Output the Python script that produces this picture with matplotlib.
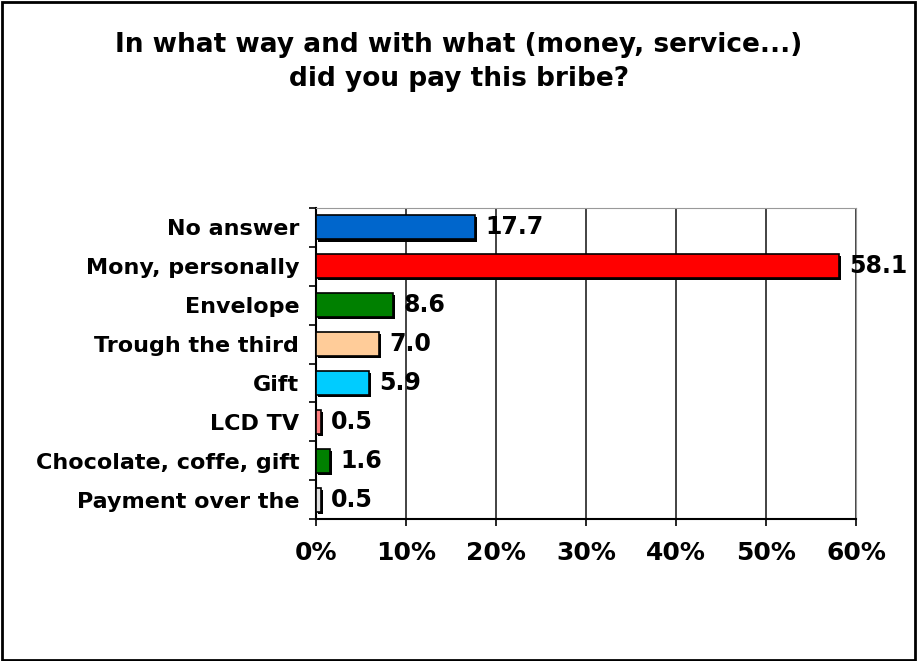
import matplotlib
matplotlib.use("Agg")
import matplotlib.pyplot as plt
import matplotlib.patheffects as pe
from matplotlib.patches import Rectangle
from matplotlib.ticker import FuncFormatter, MultipleLocator
import numpy as np

categories = ["No answer", "Mony, personally", "Envelope", "Trough the third",
              "Gift", "LCD TV", "Chocolate, coffe, gift", "Payment over the"]
values = [17.7, 58.1, 8.6, 7.0, 5.9, 0.5, 1.6, 0.5]
colors = ["#0066CC", "#FF0000", "#008000", "#FFCC99",
          "#00CCFF", "#FF8080", "#008000", "#E0E0E0"]

plt.rcParams['font.family'] = ['DejaVu Sans']

fig = plt.figure(figsize=(9.18, 6.61), dpi=100)
fig.patch.set_facecolor("white")
# outer frame
fig.patches.append(Rectangle((0.002, 0.002), 0.995, 0.995, transform=fig.transFigure,
                             fill=False, edgecolor="black", linewidth=2))

ax = fig.add_axes([316 / 918, 1 - 519 / 661, 540 / 918, 311 / 661])

y = np.arange(len(categories))
bars = ax.barh(y, values, height=0.62, color=colors, edgecolor="black", linewidth=1.2,
               zorder=3)
for b in bars:
    b.set_path_effects([pe.SimplePatchShadow(offset=(1.5, -1.5), shadow_rgbFace="black",
                                             alpha=1.0), pe.Normal()])

for yi, v in zip(y, values):
    ax.text(v + 1.1, yi, f"{v:.1f}", va="center", ha="left", fontsize=17,
            fontweight="bold", zorder=4)

ax.set_xlim(0, 60)
ax.set_ylim(len(categories) - 0.5, -0.5)
ax.xaxis.set_major_locator(MultipleLocator(10))
ax.xaxis.set_major_formatter(FuncFormatter(lambda x, p: f"{x:.0f}%"))
ax.set_yticks(y)
ax.set_yticklabels(categories)
ax.set_yticks(np.arange(len(categories) + 1) - 0.5, minor=True)
ax.tick_params(axis="y", which="major", length=0, pad=12, labelsize=16)
ax.tick_params(axis="y", which="minor", length=5, width=1.2, color="black")
ax.tick_params(axis="x", length=5, width=1.2, pad=11, labelsize=18)
for lab in ax.get_yticklabels() + ax.get_xticklabels():
    lab.set_fontweight("bold")

ax.grid(axis="x", color="#222222", linewidth=1.2, zorder=0)
ax.spines["left"].set_color("black")
ax.spines["left"].set_linewidth(1.5)
ax.spines["bottom"].set_color("black")
ax.spines["bottom"].set_linewidth(1.5)
ax.spines["top"].set_color("#999999")
ax.spines["right"].set_color("#999999")

fig.text(0.5, 1 - 45 / 661, "In what way and with what (money, service...)",
         ha="center", va="center", fontsize=19, fontweight="bold")
fig.text(0.5, 1 - 79 / 661, "did you pay this bribe?",
         ha="center", va="center", fontsize=19, fontweight="bold")

fig.savefig("out.png", dpi=100)
